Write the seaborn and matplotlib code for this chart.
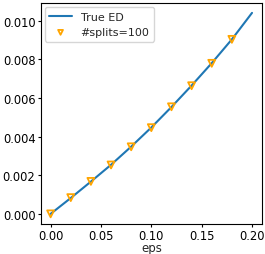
import numpy as np
import pandas as pd
import matplotlib
matplotlib.use("Agg")
import matplotlib.pyplot as plt
import seaborn as sns

# Values
eps_line = [0.00, 0.02, 0.04, 0.06, 0.08, 0.10, 0.12, 0.14, 0.16, 0.18, 0.20]
true_ed = [0.0, 0.00082, 0.00167, 0.00254, 0.00348, 0.00447, 0.00553, 0.00664, 0.00780, 0.00903, 0.01040]

eps_splits = [0.00, 0.02, 0.04, 0.06, 0.08, 0.10, 0.12, 0.14, 0.16, 0.18]
splits_100 = [0.0, 0.00084, 0.00168, 0.00253, 0.00347, 0.00446, 0.00554, 0.00663, 0.00779, 0.00903]

sns.set_style("ticks")
plt.rcParams["font.family"] = ["DejaVu Sans"]

fig = plt.figure(figsize=(2.65, 2.55), dpi=100)
ax = fig.add_axes([0.153, 0.118, 0.836, 0.867])

line_df = pd.DataFrame({"eps": eps_line, "ed": true_ed})
pts_df = pd.DataFrame({"eps": eps_splits, "ed": splits_100})

sns.lineplot(data=line_df, x="eps", y="ed", ax=ax, color="#1f77b4",
             linewidth=1.5, label="True ED")
ax.scatter(pts_df["eps"], pts_df["ed"], marker="v", s=25,
           facecolors="none", edgecolors="orange", linewidths=1.3,
           label="#splits=100", zorder=3)

ax.set_xticks([0.00, 0.05, 0.10, 0.15, 0.20])
ax.set_xticklabels(["0.00", "0.05", "0.10", "0.15", "0.20"])
ax.set_yticks([0.000, 0.002, 0.004, 0.006, 0.008, 0.010])
ax.set_yticklabels(["0.000", "0.002", "0.004", "0.006", "0.008", "0.010"])
ax.tick_params(labelsize=8.3, length=2.5, width=0.8, pad=1.2, colors="black")
ax.set_xlabel("eps", fontsize=8.5, labelpad=-0.5)
ax.set_ylabel("")
for s in ax.spines.values():
    s.set_color("black")
    s.set_linewidth(0.8)

ax.legend(loc="upper left", fontsize=8, frameon=True, handlelength=2,
          borderaxespad=0.4, markerscale=0.7)

fig.savefig("out.png", dpi=100)
